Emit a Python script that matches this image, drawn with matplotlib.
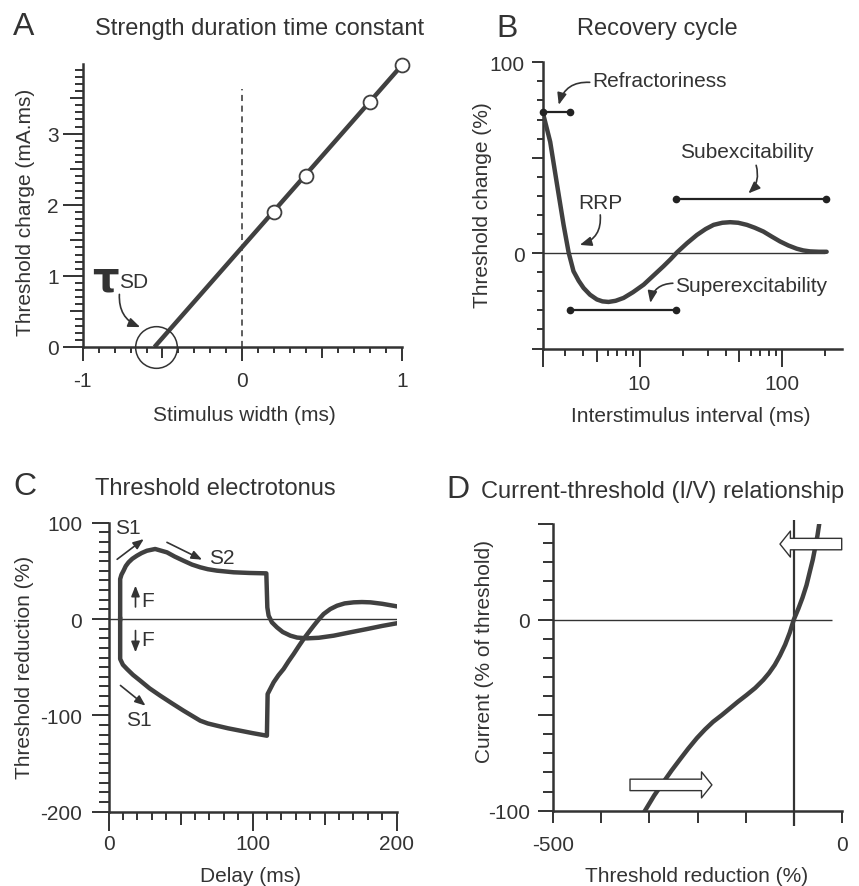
import numpy as np
import matplotlib.pyplot as plt
from matplotlib.ticker import NullLocator

W, H = 859, 887
INK = '#333333'
CURVE = '#404040'

plt.rcParams['font.family'] = ['Liberation Sans', 'DejaVu Sans']
plt.rcParams['text.color'] = INK
plt.rcParams['axes.edgecolor'] = INK
plt.rcParams['xtick.color'] = INK
plt.rcParams['ytick.color'] = INK

# --- DATA ---
# A: strength-duration time constant
sd_width = [0.2, 0.4, 0.8, 1.0]
sd_charge = [1.90, 2.41, 3.44, 3.96]
sd_fit_x = [-0.55, 1.0]
sd_fit_y = [0.0, 3.96]
tau_sd = -0.54
dash_top = 3.63

# B: recovery cycle (interstimulus interval ms, threshold change %)
rc_interval = [2.1, 2.37, 2.65, 2.94, 3.19, 3.45, 3.75, 4.06, 4.5, 5.03, 5.5, 6.07, 6.8, 7.73,
               9.0, 10.7, 12.5, 14.7, 16.5, 18.3, 21.5, 25.2, 29, 33, 38, 43.1, 49, 56.4,
               64, 73.6, 84, 96.3, 110, 126, 140, 156, 180, 204]
rc_change = [73.9, 58.3, 35.6, 14.8, 0.3, -9.5, -14.5, -18.3, -21.8, -24.3, -25.3, -25.6, -25.0, -23.5,
             -20.5, -16.5, -11.8, -6.9, -3.2, 0.4, 5.2, 9.5, 12.6, 14.8, 15.9, 16.2, 15.9, 14.8,
             13.3, 11.3, 8.7, 6.1, 4.0, 2.3, 1.4, 0.9, 0.7, 0.7]
refract_bar = ([2.1, 3.27], 74)
super_bar = ([3.27, 17.9], -30)
sub_bar = ([17.9, 202], 28.3)

# C: threshold electrotonus (delay ms, threshold reduction %)
te_delay_dep = [8.1, 8.1, 9.0, 10.4, 12.0, 13.9, 16.5, 19.7, 23.0, 26.7, 32.4, 40.6, 46, 52.1, 58,
                63.7, 69, 75.3, 86.9, 98, 109.6, 110.3, 111.2, 113.5, 117, 121, 126.3, 131, 137.9,
                146, 156.4, 168, 179.6, 190, 200]
te_dep = [0, 41.5, 46, 50, 55, 58.8, 62.5, 65.7, 68.5, 70.9, 72.7, 69.2, 64.8, 60.5, 56.5,
          53.7, 51.7, 50.2, 48.5, 47.8, 47.4, 12, 3.5, -3.5, -8.7, -13.5, -17.3, -19.3, -20.1,
          -19.5, -17.3, -13.8, -10.4, -7.2, -4.5]
te_delay_hyp = [8.1, 8.1, 10.0, 12.8, 17, 22, 28.5, 35.9, 44, 52.1, 58, 63.7, 69, 75.3, 83, 91.5,
                100, 110, 110.5, 114.7, 118, 121.6, 125, 128.6, 132, 135.5, 139, 142.5, 146,
                149.4, 154, 158.7, 164, 170.3, 176, 181.9, 190, 200]
te_hyp = [0, -41.5, -47.5, -51.9, -58, -64, -72, -79.6, -87.5, -95.2, -100.5, -105.6, -108.5, -110.8,
          -113.5, -116, -118.5, -121.2, -77.9, -65.7, -58.5, -51.9, -44, -36.3, -28.5, -20.8,
          -13.8, -7, -0.5, 5.2, 10.3, 13.8, 16.2, 17.3, 17.6, 17.3, 15.8, 13.2]

# D: current-threshold relationship (threshold reduction %, current % of threshold)
iv_threshold = [-341, -325, -309, -295, -280, -266, -251, -237, -223, -208, -194, -180, -165, -150,
                -136, -126, -116, -107, -98, -90, -83, -75, -68, -61, -55, -50, -46, -42, -39]
iv_current = [-100, -92, -85, -79, -73, -67.5, -62, -57.5, -53.5, -50, -46.5, -43, -39.5, -35.8,
              -31.6, -28, -23.7, -18.8, -13.1, -6.8, 0, 5.8, 11.4, 18, 25.4, 31.5, 37.7, 44, 50]
iv_resting = -83.3
iv_arrow_left = ((0, 39.5), (-107, 39.5))      # tail, tip
iv_arrow_right = ((-367, -86.5), (-225, -86.5))


def ftext(x, y, s, **kw):
    fig.text(x / W, 1 - y / H, s, **kw)


def add_axes_px(left, top, right, bottom):
    ax = fig.add_axes([left / W, 1 - bottom / H, (right - left) / W, (bottom - top) / H])
    for s in ['top', 'right']:
        ax.spines[s].set_visible(False)
    for s in ['left', 'bottom']:
        ax.spines[s].set_linewidth(1.8)
    ax.patch.set_alpha(0)
    return ax


def set_ticks(axis, locs, labels, lengths):
    axis.set_ticks(locs)
    axis.set_ticklabels(labels)
    axis.set_minor_locator(NullLocator())
    for t, L in zip(axis.get_major_ticks(len(locs)), lengths):
        t.tick1line.set_markersize(L)


def arrow(ax, tail, head, rad=0.0, ms=10):
    ax.annotate('', xy=head, xytext=tail, annotation_clip=False,
                arrowprops=dict(arrowstyle='-|>,head_length=0.7,head_width=0.28',
                                connectionstyle=f'arc3,rad={rad}', lw=1.2, color=INK,
                                shrinkA=0, shrinkB=0, mutation_scale=ms))


fig = plt.figure(figsize=(W / 100, H / 100), dpi=100)
TS = 15      # text size
TITLE = 17
LETTER = 23

# ---------------- A ----------------
axA = add_axes_px(82.7, 65, 401.7, 348)
axA.set_xlim(-1, 1)
axA.set_ylim(0, 3.98)
axA.tick_params(axis='x', length=10, width=1.4, pad=7, labelsize=TS)
axA.tick_params(axis='y', length=14.4, width=1.4, pad=3, labelsize=TS)
xl = np.round(np.arange(-10, 11) / 10, 1)
set_ticks(axA.xaxis, xl, [f'{v:g}' if v == int(v) else '' for v in xl],
          [10 if v == int(v) else (7.7 if abs(v * 2) == int(abs(v * 2)) else 4.3) for v in xl])
yl = np.round(np.arange(0, 40) / 10, 1)
set_ticks(axA.yaxis, yl, [f'{v:g}' if v == int(v) else '' for v in yl],
          [14.4 if v == int(v) else (9.4 if v * 2 == int(v * 2) else 5.8) for v in yl])
axA.plot([0, 0], [0, dash_top], ls=(0, (4, 3)), lw=1.1, color=INK)
axA.plot(sd_fit_x, sd_fit_y, color=CURVE, lw=3.2, solid_capstyle='butt')
axA.plot(sd_width, sd_charge, 'o', ms=10, mfc='white', mec=CURVE, mew=1.3, clip_on=False, zorder=5)
axA.plot(tau_sd, 0, 'o', ms=30, mfc='none', mec=INK, mew=1.1, clip_on=False, zorder=6)
axA.text(-0.94, 0.8, 'τ', fontsize=30, fontweight='bold', family='DejaVu Sans', va='baseline')
axA.text(-0.77, 0.85, 'SD', fontsize=15, va='baseline')
arrow(axA, (-0.77, 0.74), (-0.64, 0.28), rad=0.35)

ftext(13, 35, 'A', fontsize=LETTER, va='baseline')
ftext(95, 35, 'Strength duration time constant', fontsize=TITLE, va='baseline')
ftext(244, 421, 'Stimulus width (ms)', fontsize=TS, ha='center', va='baseline')
ftext(26, 212, 'Threshold charge (mA.ms)', fontsize=TS, ha='center', va='center', rotation=90)

# ---------------- B ----------------
axB = add_axes_px(542.7, 63.3, 841.7, 349.5)
axB.set_xscale('log')
axB.set_xlim(2.1, 260)
axB.set_ylim(-50, 100)
axB.tick_params(axis='x', length=12.5, width=1.4, pad=6, labelsize=TS)
axB.tick_params(axis='y', length=8, width=1.4, pad=5, labelsize=TS)
bx = [2.1, 3, 4, 5, 6, 7, 8, 9, 10, 20, 30, 40, 50, 60, 70, 80, 90, 100, 200]
set_ticks(axB.xaxis, bx, ['10' if v == 10 else ('100' if v == 100 else '') for v in bx],
          [13 if v in (2.1, 10, 100) else (9.6 if v in (5, 50) else 4.8) for v in bx])
by = list(range(-50, 101, 10))
set_ticks(axB.yaxis, by, ['0' if v == 0 else ('100' if v == 100 else '') for v in by],
          [8 if v % 50 == 0 else 4.3 for v in by])
axB.hlines(0, 2.1, 200, color=INK, lw=1.0)
axB.plot(rc_interval, rc_change, color=CURVE, lw=3.2, solid_capstyle='round', zorder=4)
for xs, yv in [refract_bar, super_bar, sub_bar]:
    axB.plot(xs, [yv, yv], '-o', color='#222222', lw=1.6, ms=4.5, clip_on=False, zorder=5)
axB.text(4.67, 90.4, 'Refractoriness', fontsize=TS, va='center')
axB.text(5.31, 26.6, 'RRP', fontsize=TS, ha='center', va='center')
axB.text(56.4, 53, 'Subexcitability', fontsize=TS, ha='center', va='center')
axB.text(17.8, -16.9, 'Superexcitability', fontsize=TS, va='center')
arrow(axB, (4.48, 89.5), (2.72, 77.7), rad=0.4)
arrow(axB, (5.31, 20), (3.82, 4.3), rad=-0.4)
arrow(axB, (65.5, 46), (57.8, 31.3), rad=-0.3)
arrow(axB, (17.1, -15.8), (11.9, -26.1), rad=0.4)

ftext(496.7, 36.7, 'B', fontsize=LETTER, va='baseline')
ftext(576.7, 35, 'Recovery cycle', fontsize=TITLE, va='baseline')
ftext(691, 421.7, 'Interstimulus interval (ms)', fontsize=TS, ha='center', va='baseline')
ftext(482, 205, 'Threshold change (%)', fontsize=TS, ha='center', va='center', rotation=90)

# ---------------- C ----------------
axC = add_axes_px(108.5, 523.7, 396.5, 812.6)
axC.set_xlim(0, 200)
axC.set_ylim(-200, 100)
axC.tick_params(axis='x', length=13.4, width=1.4, pad=3, labelsize=TS)
axC.tick_params(axis='y', length=12, width=1.4, pad=7, labelsize=TS)
cx = list(range(0, 201, 10))
set_ticks(axC.xaxis, cx, [str(v) if v % 100 == 0 else '' for v in cx],
          [13.4 if v % 100 == 0 else (9 if v % 50 == 0 else 5.5) for v in cx])
cy = list(range(-200, 101, 10))
set_ticks(axC.yaxis, cy, [str(v) if v % 100 == 0 else '' for v in cy],
          [12 if v % 100 == 0 else 7 for v in cy])
axC.hlines(0, 0, 200, color=INK, lw=1.0)
axC.plot(te_delay_dep, te_dep, color=CURVE, lw=3.2, solid_joinstyle='round', zorder=4)
axC.plot(te_delay_hyp, te_hyp, color=CURVE, lw=3.2, solid_joinstyle='round', zorder=4)
axC.text(13.5, 95, 'S1', fontsize=TS, ha='center', va='center')
axC.text(78.5, 64, 'S2', fontsize=TS, ha='center', va='center')
axC.text(27, 19, 'F', fontsize=TS, ha='center', va='center')
axC.text(27, -21, 'F', fontsize=TS, ha='center', va='center')
axC.text(21, -104, 'S1', fontsize=TS, ha='center', va='center')
arrow(axC, (6, 62), (24.5, 83), ms=9)
arrow(axC, (40.6, 79.6), (65, 61.6), ms=9)
arrow(axC, (18.75, 12.5), (18.75, 34.6), ms=9)
arrow(axC, (18.75, -12), (18.75, -34.6), ms=9)
arrow(axC, (8.3, -69), (25.7, -90), ms=9)

ftext(13.3, 495, 'C', fontsize=LETTER, va='baseline')
ftext(95, 495, 'Threshold electrotonus', fontsize=TITLE, va='baseline')
ftext(251, 882, 'Delay (ms)', fontsize=TS, ha='center', va='baseline')
ftext(25, 667, 'Threshold reduction (%)', fontsize=TS, ha='center', va='center', rotation=90)

# ---------------- D ----------------
axD = add_axes_px(553.3, 525, 841.7, 811.7)
axD.set_xlim(-500, 0)
axD.set_ylim(-100, 50)
axD.tick_params(axis='x', length=8.5, width=1.4, pad=9, labelsize=TS)
axD.tick_params(axis='y', length=10.8, width=1.4, pad=6, labelsize=TS)
dx = np.linspace(-500, 0, 7)
set_ticks(axD.xaxis, dx, ['-500', '', '', '', '', '', '0'], [8.5] * 7)
dy = list(range(-100, 51, 10))
set_ticks(axD.yaxis, dy, [str(v) if v in (0, -100) else '' for v in dy],
          [10.8 if v % 50 == 0 else 7.2 for v in dy])
axD.hlines(0, -500, -17, color=INK, lw=1.0)
axD.vlines(iv_resting, -108, 52, color=INK, lw=1.6, clip_on=False)
axD.plot(iv_threshold, iv_current, color=CURVE, lw=3.2, zorder=4)
for (tail, tip) in [iv_arrow_left, iv_arrow_right]:
    axD.annotate('', xy=tip, xytext=tail, annotation_clip=False,
                 arrowprops=dict(arrowstyle='simple,head_length=0.5,head_width=1.25,tail_width=0.55',
                                 fc='white', ec=INK, lw=1.0, shrinkA=0, shrinkB=0,
                                 mutation_scale=15), zorder=6)

ftext(446.7, 498, 'D', fontsize=LETTER, va='baseline')
ftext(480.7, 498, 'Current-threshold (I/V) relationship', fontsize=TITLE, va='baseline')
ftext(696.7, 882, 'Threshold reduction (%)', fontsize=TS, ha='center', va='baseline')
ftext(485, 652, 'Current (% of threshold)', fontsize=TS, ha='center', va='center', rotation=90)

fig.savefig('out.png', dpi=100)
